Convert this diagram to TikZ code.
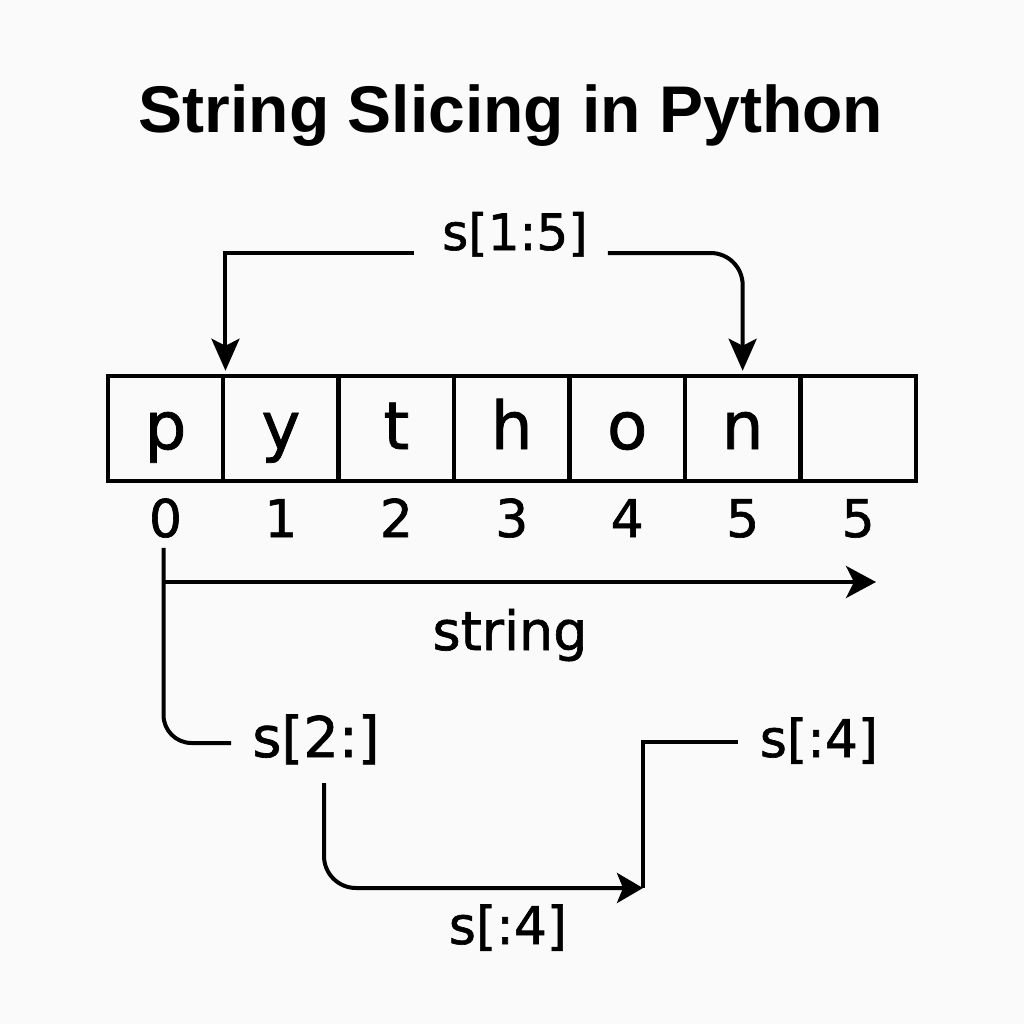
\documentclass[tikz,border=0pt]{standalone}
\usepackage{fontspec}
\setmainfont[FakeBold=1.2]{DejaVu Sans}
\newfontfamily\titlefont{Liberation Sans}
\usetikzlibrary{arrows.meta,calc}
\definecolor{bgc}{HTML}{FAFAFA}
\tikzset{
  conn/.style={line width=4pt, black},
  cellbox/.style={draw, line width=4.5pt, minimum width=115.43pt, minimum height=105pt,
    inner sep=0pt, text height=62pt, text depth=21pt, font=\fontsize{66}{70}\selectfont},
  idx/.style={inner sep=0pt, anchor=base, font=\fontsize{52}{56}\selectfont},
  lbl/.style={inner sep=0pt, anchor=base},
  tip/.style={-{Stealth[length=32pt,width=28pt,inset=7pt]}},
}
\begin{document}
\begin{tikzpicture}[x=1pt,y=-1pt]
\fill[bgc] (0,0) rectangle (1024,1024);
\useasboundingbox (0,0) rectangle (1024,1024);

\node[lbl, font=\titlefont\bfseries\fontsize{66}{70}\selectfont] (title) at (511,133) {String Slicing in Python};

% cells
\foreach \t [count=\i from 0] in {p,y,t,h,o,n,{}} {
  \node[cellbox] (c\i) at (165.5+\i*115.43, 428.5) {\t};
  \node[idx] (i\i) at (165.5+\i*115.43, 537) {\ifnum\i=6 5\else\i\fi};
}

% s[1:5]
\node[lbl, font=\fontsize{50}{56}\selectfont] (s15) at (515,250) {s[1:5]};
\coordinate (tl) at ($(s15.base west)+(-28,3)$);
\coordinate (tr) at ($(s15.base east)+(20,3)$);
\draw[conn, tip, shorten >=3pt] (tl) -| (c0.north east);
\draw[conn, tip, shorten >=3pt, rounded corners=32pt] (tr) -| (c5.north);

% string arrow
\coordinate (a0) at (164,582);
\coordinate (a1) at (876,582);
\draw[conn, -{Stealth[length=30pt,width=32pt,inset=8pt]}] (a0) -- (a1);
\node[lbl, font=\fontsize{54}{60}\selectfont] (str) at (510,650) {string};

% s[2:]
\node[lbl, font=\fontsize{56}{60}\selectfont] (s2) at (316,757) {s[2:]};
\coordinate (v0) at ($(i0.south)+(-2,10)$);
\coordinate (v1) at ($(s2.base west)+(-21,-14)$);
\draw[conn, rounded corners=28pt] (v0) |- (v1);

% bottom s[:4]
\node[lbl, font=\fontsize{52}{56}\selectfont] (s4b) at (508,944) {s[:4]};
\coordinate (b0) at (324,783);
\coordinate (b1) at (643,888);
\draw[conn, rounded corners=32pt, -{Stealth[length=26pt,width=30pt,inset=6pt]}] (b0) |- (b1);

% right s[:4]
\node[lbl, font=\fontsize{52}{56}\selectfont] (s4r) at (819,757) {s[:4]};
\coordinate (b2) at ($(s4r.base west)+(-22,-15)$);
\draw[conn] (b1) |- (b2);
\end{tikzpicture}
\end{document}
